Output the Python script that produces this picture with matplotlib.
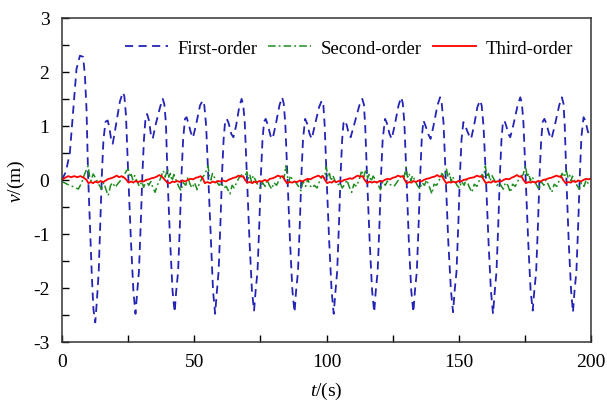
import matplotlib
matplotlib.use('Agg')
import matplotlib.pyplot as plt
from matplotlib.ticker import MultipleLocator

plt.rcParams['font.family'] = 'Liberation Serif'
plt.rcParams['mathtext.fontset'] = 'custom'
plt.rcParams['mathtext.it'] = 'Liberation Serif:italic'
plt.rcParams['mathtext.rm'] = 'Liberation Serif'
plt.rcParams['axes.unicode_minus'] = False

# first-order response (key points)
t_first = [0, 1.5, 3.0, 4.3, 5.5, 6.8, 8.0, 8.7, 9.3, 9.9, 10.6, 11.3, 11.9,
           12.6, 13.2, 13.9, 14.5, 15.1, 15.7, 16.5, 17.3, 18.0, 18.6, 19.2, 20.2, 21.9, 23.0, 23.6, 24.2, 25.1, 26.1, 27.0,
           27.8, 28.4, 29.1, 29.8, 30.4, 31.0, 31.6, 32.2, 32.9, 33.6, 34.3, 35.3, 37.1, 38.1, 38.7, 39.3, 39.9, 40.9, 41.8,
           42.6, 43.2, 43.9, 44.6, 45.2, 45.8, 46.5, 47.1, 47.8, 48.7, 49.5, 50.6, 52.2, 53.2, 53.8, 54.5, 55.3, 56.3, 57.1,
           57.9, 58.5, 59.2, 59.9, 60.5, 61.1, 61.7, 62.3, 63.0, 64.0, 64.8, 65.8, 67.0, 67.9, 68.5, 69.1, 69.9, 70.9, 71.8,
           72.6, 73.2, 73.9, 74.6, 75.2, 75.8, 76.4, 77.0, 77.8, 78.8, 79.6, 80.7, 82.2, 83.2, 83.8, 84.4, 85.2, 86.2, 87.1,
           87.9, 88.5, 89.2, 89.9, 90.5, 91.1, 91.9, 92.6, 93.6, 94.4, 95.5, 97.2, 98.2, 98.8, 99.3, 100.0, 101.0, 101.9,
           102.7, 103.3, 104.0, 104.7, 105.3, 105.9, 106.4, 107.0, 107.7, 108.4, 109.1, 110.3, 112.4, 113.5, 114.1, 114.6, 115.3, 116.3, 117.2,
           118.0, 118.6, 119.3, 120.0, 120.6, 121.2, 122.1, 122.8, 123.8, 124.6, 125.7, 127.2, 128.2, 128.8, 129.4, 130.2, 131.1, 132.0,
           132.8, 133.4, 134.1, 134.8, 135.4, 136.0, 136.6, 137.4, 138.4, 139.3, 140.4, 141.9, 142.9, 143.5, 144.2, 145.0, 146.0, 147.0,
           147.8, 148.4, 149.1, 149.8, 150.4, 151.0, 151.7, 152.4, 153.6, 154.6, 155.7, 157.0, 158.0, 158.6, 159.3, 160.2, 161.2, 162.1,
           162.9, 163.5, 164.2, 164.9, 165.5, 166.1, 166.6, 167.2, 167.9, 168.7, 169.4, 170.5, 172.2, 173.2, 173.8, 174.4, 175.2, 176.2, 177.1,
           177.9, 178.5, 179.2, 179.9, 180.5, 181.1, 181.7, 182.3, 183.0, 184.1, 185.0, 186.2, 187.9, 188.9, 189.5, 190.0, 190.6, 191.5, 192.4,
           193.1, 193.7, 194.4, 195.1, 195.7, 196.3, 197.1, 197.8, 198.7, 199.6, 200.0]
v_first = [0.0, 0.15, 0.5, 1.3, 2.05, 2.3, 2.28, 1.93, 1.3, 0.08, -0.85, -1.77, -2.39,
           -2.64, -2.25, -1.7, -0.8, 0.1, 0.75, 1.08, 1.1, 0.95, 0.75, 0.67, 0.95, 1.45, 1.62, 1.55, 1.2, 0.05, -1.15, -2.05,
           -2.48, -2.1, -1.7, -0.8, 0.1, 0.75, 1.15, 1.22, 1.1, 0.85, 0.76, 1.0, 1.35, 1.5, 1.4, 1.05, 0.05, -1.15, -2.05,
           -2.45, -2.05, -1.7, -0.8, 0.1, 0.75, 1.13, 1.16, 1.05, 0.88, 0.78, 1.0, 1.38, 1.47, 1.38, 1.0, 0.05, -1.15, -2.05,
           -2.48, -2.1, -1.7, -0.8, 0.1, 0.75, 1.1, 1.13, 1.05, 0.85, 0.79, 1.0, 1.35, 1.5, 1.4, 1.05, 0.05, -1.15, -2.05,
           -2.42, -2.05, -1.7, -0.8, 0.1, 0.75, 1.08, 1.13, 1.02, 0.82, 0.76, 1.0, 1.38, 1.53, 1.42, 1.05, 0.05, -1.15, -2.05,
           -2.45, -2.05, -1.7, -0.8, 0.1, 0.75, 1.13, 1.05, 0.85, 0.76, 1.0, 1.35, 1.47, 1.38, 1.0, 0.05, -1.15, -2.05,
           -2.48, -2.1, -1.7, -0.8, 0.1, 0.75, 1.05, 1.1, 1.0, 0.85, 0.79, 1.0, 1.38, 1.5, 1.4, 1.0, 0.05, -1.15, -2.05,
           -2.45, -2.05, -1.7, -0.8, 0.1, 0.75, 1.13, 1.05, 0.85, 0.76, 1.0, 1.38, 1.53, 1.42, 1.05, 0.05, -1.15, -2.05,
           -2.45, -2.05, -1.7, -0.8, 0.1, 0.8, 1.1, 1.0, 0.85, 0.76, 1.0, 1.38, 1.53, 1.42, 1.05, 0.05, -1.15, -2.05,
           -2.45, -2.05, -1.7, -0.8, 0.1, 0.75, 1.07, 1.0, 0.85, 0.76, 1.0, 1.35, 1.47, 1.38, 1.0, 0.05, -1.15, -2.05,
           -2.48, -2.1, -1.7, -0.8, 0.1, 0.75, 1.05, 1.1, 1.0, 0.85, 0.79, 1.0, 1.38, 1.53, 1.42, 1.05, 0.05, -1.15, -2.05,
           -2.42, -2.05, -1.7, -0.8, 0.1, 0.75, 1.08, 1.13, 1.05, 0.85, 0.76, 1.0, 1.38, 1.53, 1.42, 1.0, 0.05, -1.15, -2.05,
           -2.45, -2.05, -1.7, -0.8, 0.1, 0.8, 1.16, 1.1, 0.9, 0.79, 0.8]

# second-order
t_second = [0, 2.0, 4.0, 6.2, 7.5, 8.5, 9.9,
            10.4, 11.0, 11.8, 12.3, 13.1, 14.1, 15.0, 15.8, 16.8, 17.5, 18.4, 19.2, 20.1, 21.0, 22.0, 23.0, 24.4, 25.1,
            25.6, 26.2, 26.8, 27.5, 28.3, 29.3, 30.2, 30.9, 31.8, 32.8, 33.6, 34.4, 35.2, 36.2, 37.2, 38.3, 39.0, 39.9,
            40.4, 41.0, 41.6, 42.3, 43.1, 44.1, 45.0, 45.8, 46.8, 47.6, 48.4, 49.2, 50.1, 51.1, 52.1, 53.1, 54.0, 55.2,
            55.7, 56.3, 56.9, 57.6, 58.4, 59.4, 60.3, 61.1, 62.1, 63.5, 64.3, 65.1, 66.0, 67.0, 68.0, 69.0, 69.9,
            70.4, 71.0, 71.6, 72.3, 73.1, 74.1, 75.0, 75.8, 76.8, 77.6, 78.4, 79.3, 80.1, 81.1, 82.1, 83.1, 83.9, 84.6,
            85.1, 85.7, 86.3, 87.2, 88.4, 89.4, 90.3, 91.1, 92.1, 92.9, 93.7, 94.5, 95.4, 96.4, 97.4, 98.4, 99.2, 99.9,
            100.5, 101.1, 101.7, 102.4, 103.2, 104.2, 105.1, 105.9, 106.9, 107.7, 108.5, 109.5, 110.3, 111.3, 112.3, 113.3, 114.0, 114.9,
            115.5, 116.1, 116.8, 117.6, 118.5, 119.5, 120.4, 121.2, 122.2, 123.0, 123.8, 124.6, 125.5, 126.5, 127.5, 128.5, 129.3, 130.0,
            130.6, 131.2, 131.8, 132.5, 133.3, 134.3, 135.3, 136.0, 137.0, 137.8, 138.8, 139.8, 140.6, 141.6, 142.6, 143.6, 144.5, 145.3,
            145.9, 146.5, 147.1, 147.6, 148.3, 149.3, 150.2, 151.0, 152.0, 152.8, 153.8, 154.9, 155.8, 156.8, 157.8, 158.8, 159.4, 160.0,
            160.6, 161.2, 161.8, 162.5, 163.4, 164.4, 165.3, 166.1, 166.8, 167.6, 168.5, 169.4, 170.3, 171.3, 172.3, 173.3, 174.3, 175.2,
            175.8, 176.4, 177.0, 177.6, 178.4, 179.4, 180.3, 181.1, 182.1, 182.9, 183.9, 185.1, 186.0, 187.0, 188.0, 189.0, 189.8, 190.6,
            191.2, 191.8, 192.4, 192.9, 193.6, 194.6, 195.5, 196.3, 197.3, 198.1, 199.0, 200.0]
v_second = [-0.03, -0.08, -0.12, -0.17, -0.05, 0.1, 0.26,
            0.08, -0.02, 0.11, 0.07, 0.0, -0.1, -0.17, -0.05, -0.2, -0.29, -0.1, -0.05, -0.14, -0.08, -0.02, 0.05, 0.17, 0.2,
            0.05, 0.1, 0.0, 0.08, -0.02, -0.12, -0.03, -0.14, 0.0, -0.1, -0.03, -0.15, -0.23, -0.08, 0.02, 0.17, 0.05, 0.2,
            0.05, 0.12, -0.02, 0.1, 0.0, -0.12, -0.2, -0.05, -0.1, 0.05, -0.08, -0.15, -0.05, -0.18, -0.05, 0.05, 0.1, 0.26,
            0.08, 0.0, 0.12, 0.05, -0.03, -0.1, -0.05, -0.15, -0.12, -0.26, -0.1, -0.15, -0.05, 0.05, 0.1, 0.03, 0.15,
            0.02, 0.1, -0.03, 0.08, 0.0, -0.1, -0.15, -0.05, -0.12, 0.0, -0.1, -0.17, -0.05, -0.1, 0.0, 0.08, 0.02, 0.26,
            0.1, -0.05, 0.08, 0.0, -0.05, -0.12, -0.2, -0.03, -0.12, 0.02, -0.1, -0.15, -0.1, -0.15, -0.02, 0.08, 0.03, 0.24,
            0.05, 0.12, -0.02, 0.08, -0.02, -0.1, -0.05, -0.15, -0.08, 0.0, -0.12, -0.23, -0.08, -0.12, 0.0, 0.18, 0.05, 0.2,
            0.03, 0.1, -0.03, 0.07, 0.0, -0.1, -0.18, -0.03, -0.1, -0.02, -0.08, -0.1, -0.12, -0.05, 0.02, 0.1, 0.05, 0.23,
            0.05, 0.12, -0.02, 0.08, 0.0, -0.1, -0.17, -0.05, -0.1, 0.0, -0.12, -0.26, -0.08, -0.1, 0.0, 0.12, 0.05, 0.2,
            0.05, 0.12, -0.03, 0.06, 0.0, -0.1, -0.15, -0.03, -0.1, 0.02, -0.12, -0.23, -0.08, -0.12, 0.0, 0.1, 0.05, 0.26,
            0.05, 0.12, -0.02, 0.08, 0.0, -0.1, -0.05, -0.12, -0.17, -0.05, -0.1, -0.23, -0.08, -0.12, -0.02, 0.05, 0.1, 0.26,
            0.05, 0.12, -0.02, 0.06, 0.0, -0.1, -0.18, -0.03, -0.1, 0.0, -0.1, -0.23, -0.08, -0.12, 0.0, 0.12, 0.05, 0.17,
            0.05, 0.1, -0.02, 0.07, 0.0, -0.1, -0.17, -0.05, -0.12, 0.0, -0.08, -0.12]

# third-order
t_third = [0, 1.2, 2.4, 3.5, 4.6, 5.8, 7.0, 8.2, 9.3, 10.0, 11.0, 11.8,
           12.6, 13.6, 14.6, 15.6, 16.6, 17.6, 18.6, 19.6, 20.7, 21.6, 22.6, 23.6, 24.4, 25.2, 26.2, 27.0,
           27.8, 28.8, 29.8, 30.8, 31.8, 32.8, 33.8, 34.8, 35.8, 36.8, 37.6, 38.9, 39.8, 40.8, 41.8,
           42.6, 43.6, 44.6, 45.6, 46.6, 47.6, 48.6, 49.6, 50.6, 51.5, 52.4, 53.2, 54.0, 55.0, 56.0, 57.0,
           57.9, 58.9, 59.9, 60.9, 61.9, 62.9, 63.9, 64.9, 65.8, 66.7, 67.6, 68.4, 69.2, 70.0, 71.0, 72.0,
           72.6, 73.6, 74.6, 75.6, 76.6, 77.6, 78.6, 79.6, 80.6, 81.6, 82.6, 83.4, 84.2, 85.0, 86.0, 87.0,
           87.9, 88.9, 89.9, 90.9, 91.9, 92.9, 93.9, 94.9, 95.9, 96.9, 97.8, 98.6, 99.4, 100.2, 101.2, 102.0,
           102.7, 103.7, 104.7, 105.7, 106.7, 107.7, 108.7, 109.7, 110.7, 111.7, 112.6, 113.6, 114.4, 115.3, 116.3, 117.2,
           118.0, 119.0, 120.0, 121.0, 122.0, 123.0, 124.0, 125.0, 126.0, 127.0, 127.9, 128.8, 129.5, 130.3, 131.3, 132.1,
           132.8, 133.8, 134.8, 135.8, 136.8, 137.8, 138.8, 139.8, 140.8, 141.8, 142.7, 143.6, 144.4, 145.2, 146.2, 147.1,
           147.8, 148.8, 149.8, 150.8, 151.8, 152.8, 153.8, 154.8, 155.8, 156.8, 157.7, 158.6, 159.4, 160.2, 161.2, 162.2,
           162.9, 163.9, 164.9, 165.9, 166.9, 167.9, 168.9, 169.9, 170.9, 171.9, 172.8, 173.6, 174.4, 175.3, 176.3, 177.2,
           177.9, 178.9, 179.9, 180.9, 181.9, 182.9, 183.9, 184.9, 185.9, 186.9, 187.8, 188.6, 189.4, 190.3, 191.3, 192.3,
           193.1, 194.1, 195.1, 196.1, 197.1, 198.1, 199.1, 200.0]
v_third = [0.0, 0.04, 0.07, 0.05, 0.07, 0.05, 0.07, 0.04, 0.0, -0.06, -0.04, -0.06,
           -0.03, -0.05, -0.02, -0.04, -0.01, 0.02, 0.03, 0.05, 0.08, 0.05, 0.07, 0.04, 0.0, -0.05, -0.03, -0.05,
           -0.02, -0.04, -0.02, -0.03, 0.0, 0.01, 0.03, 0.04, 0.06, 0.09, 0.07, 0.0, -0.05, -0.06, -0.03,
           -0.04, -0.02, -0.04, -0.01, -0.03, 0.0, 0.02, 0.01, 0.04, 0.05, 0.07, 0.03, -0.06, -0.04, -0.06, -0.03,
           -0.05, -0.02, -0.03, -0.01, -0.03, 0.0, 0.02, 0.04, 0.05, 0.08, 0.06, 0.07, 0.0, -0.05, -0.04, -0.06,
           -0.03, -0.05, -0.02, -0.03, 0.0, -0.02, 0.02, 0.03, 0.05, 0.08, 0.06, 0.07, 0.0, -0.06, -0.04, -0.05,
           -0.03, -0.04, -0.01, -0.03, 0.0, 0.02, 0.01, 0.04, 0.06, 0.08, 0.05, 0.07, 0.0, -0.06, -0.04, -0.05,
           -0.02, -0.04, -0.02, -0.03, 0.0, 0.01, 0.03, 0.02, 0.05, 0.08, 0.06, 0.07, 0.0, -0.06, -0.03, -0.05,
           -0.03, -0.05, -0.02, -0.03, 0.0, 0.02, 0.01, 0.04, 0.05, 0.08, 0.06, 0.07, 0.0, -0.06, -0.04, -0.05,
           -0.02, -0.04, -0.01, -0.03, 0.0, 0.02, 0.03, 0.05, 0.06, 0.09, 0.06, 0.07, 0.0, -0.06, -0.04, -0.05,
           -0.03, -0.05, -0.02, -0.03, 0.0, 0.01, 0.03, 0.04, 0.05, 0.08, 0.06, 0.07, 0.0, -0.06, -0.04, -0.05,
           -0.02, -0.04, -0.02, -0.03, 0.0, 0.02, 0.01, 0.04, 0.06, 0.09, 0.06, 0.07, 0.0, -0.06, -0.04, -0.05,
           -0.03, -0.05, -0.02, -0.03, 0.0, 0.01, 0.03, 0.04, 0.06, 0.08, 0.06, 0.07, 0.0, -0.06, -0.04, -0.05,
           -0.02, -0.04, -0.01, -0.03, 0.0, 0.02, 0.01, 0.03]

fig = plt.figure(figsize=(6.07, 4.02), dpi=100)
ax = fig.add_axes([0.102, 0.147, 0.872, 0.806])

ax.plot(t_first, v_first, color='#2424b4', lw=1.3, dashes=(4.5, 3), label='First-order')
ax.plot(t_second, v_second, color='#1e8c1e', lw=1.1, dashes=(5, 2, 1.2, 2), label='Second-order')
ax.plot(t_third, v_third, color='#ff0000', lw=1.3, label='Third-order')

ax.set_xlim(0, 200)
ax.set_ylim(-3, 3)
ax.xaxis.set_major_locator(MultipleLocator(50))
ax.xaxis.set_minor_locator(MultipleLocator(25))
ax.yaxis.set_major_locator(MultipleLocator(1))
ax.yaxis.set_minor_locator(MultipleLocator(0.5))
ax.tick_params(which='both', direction='in', labelsize=14, top=False, right=False)
ax.tick_params(which='major', length=5, width=1)
ax.tick_params(which='minor', length=5, width=1)
ax.tick_params(axis='x', pad=8)
ax.tick_params(axis='y', pad=9)
for s in ax.spines.values():
    s.set_linewidth(1.1)
    s.set_color('#333333')

ax.set_xlabel('$t$/(s)', fontsize=14, labelpad=7)
ax.set_ylabel('$v$/(m)', fontsize=14, labelpad=4)

ax.legend(loc='upper center', bbox_to_anchor=(0.542, 0.985), ncol=3, frameon=False,
          fontsize=13.5, handlelength=2.3, columnspacing=0.6, handletextpad=0.5)

fig.savefig('out.png', dpi=100)
